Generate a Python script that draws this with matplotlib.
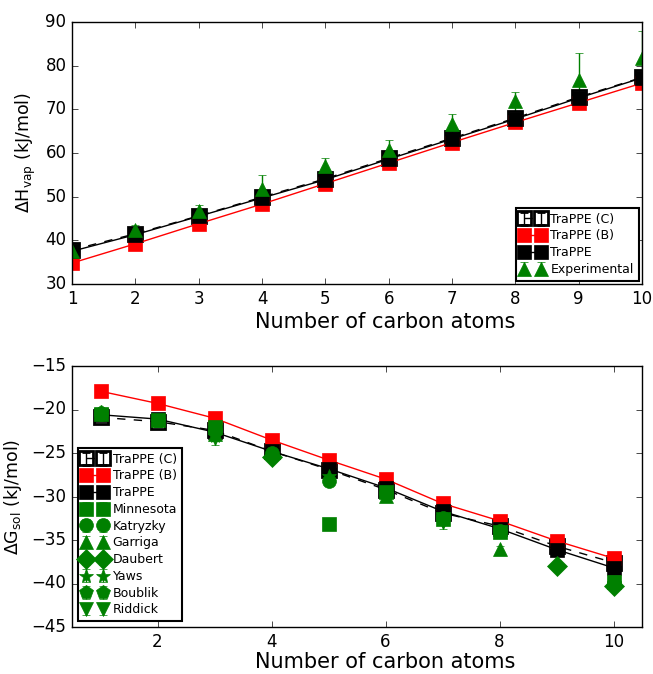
import matplotlib
matplotlib.use("Agg")
import matplotlib.pyplot as plt
import numpy as np

plt.style.use('classic')
plt.rcParams['figure.facecolor'] = 'white'
plt.rcParams['savefig.facecolor'] = 'white'
plt.rcParams['font.family'] = ['DejaVu Sans']
plt.rcParams['mathtext.default'] = 'regular'

# ---------- data: top panel (heat of vaporisation) ----------
n_carbon = [1, 2, 3, 4, 5, 6, 7, 8, 9, 10]
hvap_trappe_c = [37.8, 41.5, 45.6, 49.9, 54.1, 58.8, 63.4, 68.0, 72.8, 77.3]
hvap_trappe_b = [34.8, 39.2, 43.8, 48.3, 53.0, 57.7, 62.4, 67.0, 71.5, 76.0]
hvap_trappe = [37.5, 41.3, 45.5, 49.7, 53.9, 58.6, 63.2, 67.8, 72.6, 77.2]
hvap_model_err = [0.4, 0.4, 0.4, 0.4, 0.4, 0.4, 0.4, 0.4, 0.4, 0.4]
hvap_exp = [37.5, 42.4, 46.8, 51.8, 57.0, 60.8, 66.7, 71.8, 76.8, 81.8]
hvap_exp_err = [0.3, 1.0, 1.2, 3.2, 1.9, 2.2, 2.2, 2.2, 6.2, 6.1]

# ---------- data: bottom panel (solvation free energy) ----------
gsol_trappe_c = [-20.9, -21.4, -22.4, -24.8, -26.9, -29.2, -31.9, -33.4, -35.7, -37.6]
gsol_trappe_b = [-17.9, -19.3, -21.0, -23.5, -25.8, -28.0, -30.8, -32.8, -35.1, -37.1]
gsol_trappe = [-20.6, -21.1, -22.6, -24.8, -26.8, -29.0, -31.7, -33.7, -36.1, -38.2]
gsol_model_err = [0.3, 0.3, 0.3, 0.3, 0.3, 0.3, 0.3, 0.3, 0.3, 0.3]

minnesota_x = [1, 2, 3, 5, 6, 7, 8, 10]
minnesota_y = [-20.5, -21.2, -22.0, -33.2, -29.5, -32.6, -34.1, -39.8]
minnesota_err = [0.2, 0.2, 0.2, 0.4, 0.2, 0.2, 0.5, 0.2]
katryzky_x = [1, 3, 4, 5, 6, 7, 8]
katryzky_y = [-20.5, -22.3, -25.0, -28.2, -29.6, -32.5, -34.0]
katryzky_err = [0.7, 0.3, 0.3, 0.5, 0.3, 0.3, 0.3]
garriga_x = [3, 6, 8]
garriga_y = [-22.8, -29.9, -36.0]
garriga_err = [0.3, 0.3, 0.3]
daubert_x = [4, 9, 10]
daubert_y = [-25.5, -38.0, -40.3]
daubert_err = [0.2, 0.2, 0.2]
yaws_x = [3, 5]
yaws_y = [-23.0, -27.6]
yaws_err = [0.3, 0.3]
boublik_x = [1, 2, 10]
boublik_y = [-20.3, -21.3, -40.0]
boublik_err = [0.2, 0.2, 0.2]
riddick_x = [3, 7, 10]
riddick_y = [-23.3, -32.9, -40.5]
riddick_err = [0.8, 0.8, 0.3]

fig = plt.figure(figsize=(6.53, 6.74), dpi=100)
W, H = 653.0, 674.0
ax1 = fig.add_axes([72 / W, 1 - 284 / H, 570 / W, 262 / H])
ax2 = fig.add_axes([72 / W, 1 - 627 / H, 570 / W, 261 / H])

ms = 10
green = (0, 0.5, 0)
leg_kw = dict(numpoints=2, fontsize=9, handlelength=1.9, handletextpad=0.5,
              labelspacing=0.3, borderpad=0.4)

# ---- top panel ----
hc = ax1.errorbar(n_carbon, hvap_trappe_c, yerr=hvap_model_err, fmt='s--', color='k',
                  mfc='none', mec='k', mew=2, ms=ms, capsize=3, label='TraPPE (C)')
hb = ax1.errorbar(n_carbon, hvap_trappe_b, yerr=hvap_model_err, fmt='s-', color='r',
                  mec='r', ms=ms, capsize=3, label='TraPPE (B)')
ht = ax1.errorbar(n_carbon, hvap_trappe, yerr=hvap_model_err, fmt='s-', color='k',
                  mec='k', ms=ms, capsize=3, label='TraPPE')
he = ax1.errorbar(n_carbon, hvap_exp, yerr=hvap_exp_err, fmt='^', color=green,
                  mec=green, ms=ms, capsize=3, label='Experimental')
ax1.set_xlim(1, 10)
ax1.set_ylim(30, 90)
ax1.set_xticks(range(1, 11))
ax1.set_yticks(range(30, 91, 10))
ax1.set_xlabel('Number of carbon atoms', fontsize=15, labelpad=3)
ax1.xaxis.label.set_x(0.549)
ax1.set_ylabel(r'$\Delta$H$_{vap}$ (kJ/mol)', fontsize=12.5)
lg1 = ax1.legend(handles=[hc, hb, ht, he], loc='lower right', borderaxespad=0.25, **leg_kw)
lg1.get_frame().set_linewidth(1.5)

# ---- bottom panel ----
gc = ax2.errorbar(n_carbon, gsol_trappe_c, yerr=gsol_model_err, fmt='s--', color='k',
                  mfc='none', mec='k', mew=2, ms=ms, capsize=3, label='TraPPE (C)')
gb = ax2.errorbar(n_carbon, gsol_trappe_b, yerr=gsol_model_err, fmt='s-', color='r',
                  mec='r', ms=ms, capsize=3, label='TraPPE (B)')
gt = ax2.errorbar(n_carbon, gsol_trappe, yerr=gsol_model_err, fmt='s-', color='k',
                  mec='k', ms=ms, capsize=3, label='TraPPE')
exp_sets = [
    (minnesota_x, minnesota_y, minnesota_err, 's', 'Minnesota'),
    (katryzky_x, katryzky_y, katryzky_err, 'o', 'Katryzky'),
    (garriga_x, garriga_y, garriga_err, '^', 'Garriga'),
    (daubert_x, daubert_y, daubert_err, 'D', 'Daubert'),
    (yaws_x, yaws_y, yaws_err, '*', 'Yaws'),
    (boublik_x, boublik_y, boublik_err, 'p', 'Boublik'),
    (riddick_x, riddick_y, riddick_err, 'v', 'Riddick'),
]
handles = [gc, gb, gt]
for xs, ys, es, mk, lab in exp_sets:
    h = ax2.errorbar(xs, ys, yerr=es, fmt=mk, color=green, mec=green, ms=ms,
                     capsize=3, label=lab)
    handles.append(h)
ax2.set_xlim(0.5, 10.5)
ax2.set_ylim(-45, -15)
ax2.set_xticks([2, 4, 6, 8, 10])
ax2.set_yticks(range(-45, -14, 5))
ax2.set_xlabel('Number of carbon atoms', fontsize=15, labelpad=1)
ax2.xaxis.label.set_x(0.549)
ax2.set_ylabel(r'$\Delta$G$_{sol}$ (kJ/mol)', fontsize=12.5)
lg2 = ax2.legend(handles=handles, loc='lower left', borderaxespad=0.45, **leg_kw)
lg2.get_frame().set_linewidth(1.5)

fig.savefig('out.png', dpi=100)
